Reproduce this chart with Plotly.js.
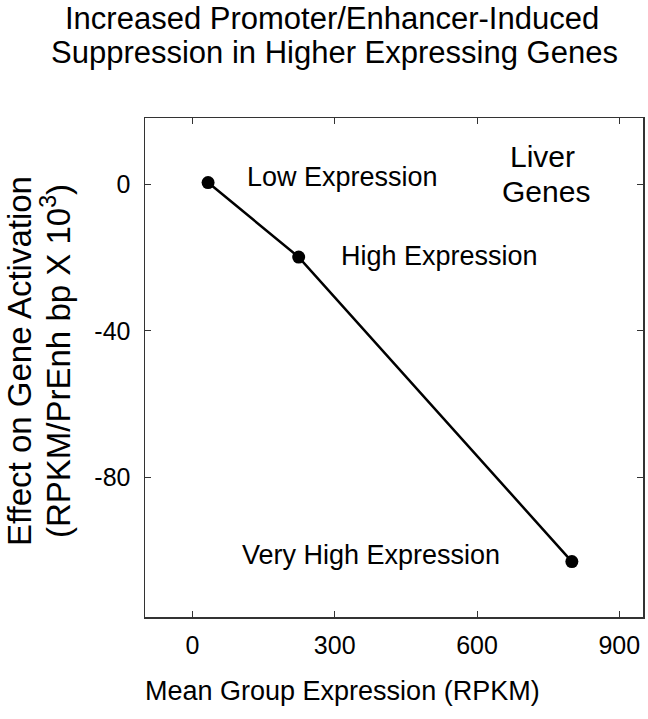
<!DOCTYPE html>
<html><head><meta charset="utf-8">
<script src="https://cdn.plot.ly/plotly-3.0.1.min.js"></script>
<style>body{margin:0;background:#fff}#c{width:648px;height:719px}</style>
</head><body><div id="c"></div>
<script>
const meanExpression = [33, 224, 800];
const effect = [0.4, -19.9, -102.9];
const groupLabels = ["Low Expression", "High Expression", "Very High Expression"];
const xTicks = [0, 300, 600, 900];
const yTicks = [0, -40, -80];
const titleLines = ["Increased Promoter/Enhancer-Induced", "Suppression in Higher Expressing Genes"];
const yTitleLines = ["Effect on Gene Activation", "(RPKM/PrEnh bp X 10<sup>3</sup>)"];
const xTitle = "Mean Group Expression (RPKM)";
const tissueLines = ["Liver", "Genes"];

const font = "Liberation Sans, Arial, sans-serif";
const ink = "#000";
const data = [{
  x: meanExpression, y: effect, type: "scatter", mode: "lines+markers",
  line: {color: "#000", width: 2.5},
  marker: {color: "#000", size: 13},
  hoverinfo: "none"
}];
function ann(text, x, y, xref, yref, size, opts) {
  return Object.assign({text: text, x: x, y: y, xref: xref, yref: yref, showarrow: false,
    borderpad: 0, font: {size: size, family: font, color: ink}}, opts || {});
}
// pixel helpers for paper placement (plot area 145..643 x 118..617)
const px = v => (v - 145) / 498;
const py = v => (617 - v) / 499;
const layout = {
  width: 648, height: 719,
  margin: {l: 145, r: 5, t: 118, b: 102},
  paper_bgcolor: "#fff", plot_bgcolor: "#fff",
  showlegend: false,
  font: {family: font, color: ink},
  xaxis: {range: [-100, 950], tickvals: xTicks, ticktext: xTicks.map(String),
          ticks: "inside", ticklen: 6, tickcolor: "#333", mirror: "ticks", ticklabelstandoff: 5,
          showline: true, linecolor: "#333", linewidth: 1.5, showgrid: false, zeroline: false,
          tickfont: {size: 25, family: font, color: ink}},
  yaxis: {range: [-118, 18], tickvals: yTicks, ticktext: yTicks.map(String),
          ticks: "inside", ticklen: 6, tickcolor: "#333", mirror: "ticks", ticklabelstandoff: 8,
          showline: true, linecolor: "#333", linewidth: 1.5, showgrid: false, zeroline: false,
          tickfont: {size: 25, family: font, color: ink}},
  annotations: [
    ann(titleLines[0], px(332), py(19), "paper", "paper", 31, {xanchor: "center", yanchor: "middle"}),
    ann(titleLines[1], px(334), py(53), "paper", "paper", 31, {xanchor: "center", yanchor: "middle"}),
    ann(xTitle, px(342), py(691), "paper", "paper", 27, {xanchor: "center", yanchor: "middle"}),
    ann(yTitleLines[0], px(19), py(361), "paper", "paper", 33, {xanchor: "center", yanchor: "middle", textangle: -90}),
    ann(yTitleLines[1], px(56), py(361), "paper", "paper", 33, {xanchor: "center", yanchor: "middle", textangle: -90}),
    ann(groupLabels[0], 113, 2.0, "x", "y", 27, {xanchor: "left", yanchor: "middle"}),
    ann(groupLabels[1], 311, -19.6, "x", "y", 27, {xanchor: "left", yanchor: "middle"}),
    ann(groupLabels[2], 102, -101, "x", "y", 27, {xanchor: "left", yanchor: "middle"}),
    ann(tissueLines[0], 738, 7.4, "x", "y", 30, {xanchor: "center", yanchor: "middle"}),
    ann(tissueLines[1], 745, -1.9, "x", "y", 30, {xanchor: "center", yanchor: "middle"})
  ]
};
Plotly.newPlot("c", data, layout, {displayModeBar: false, staticPlot: true});
</script></body></html>
